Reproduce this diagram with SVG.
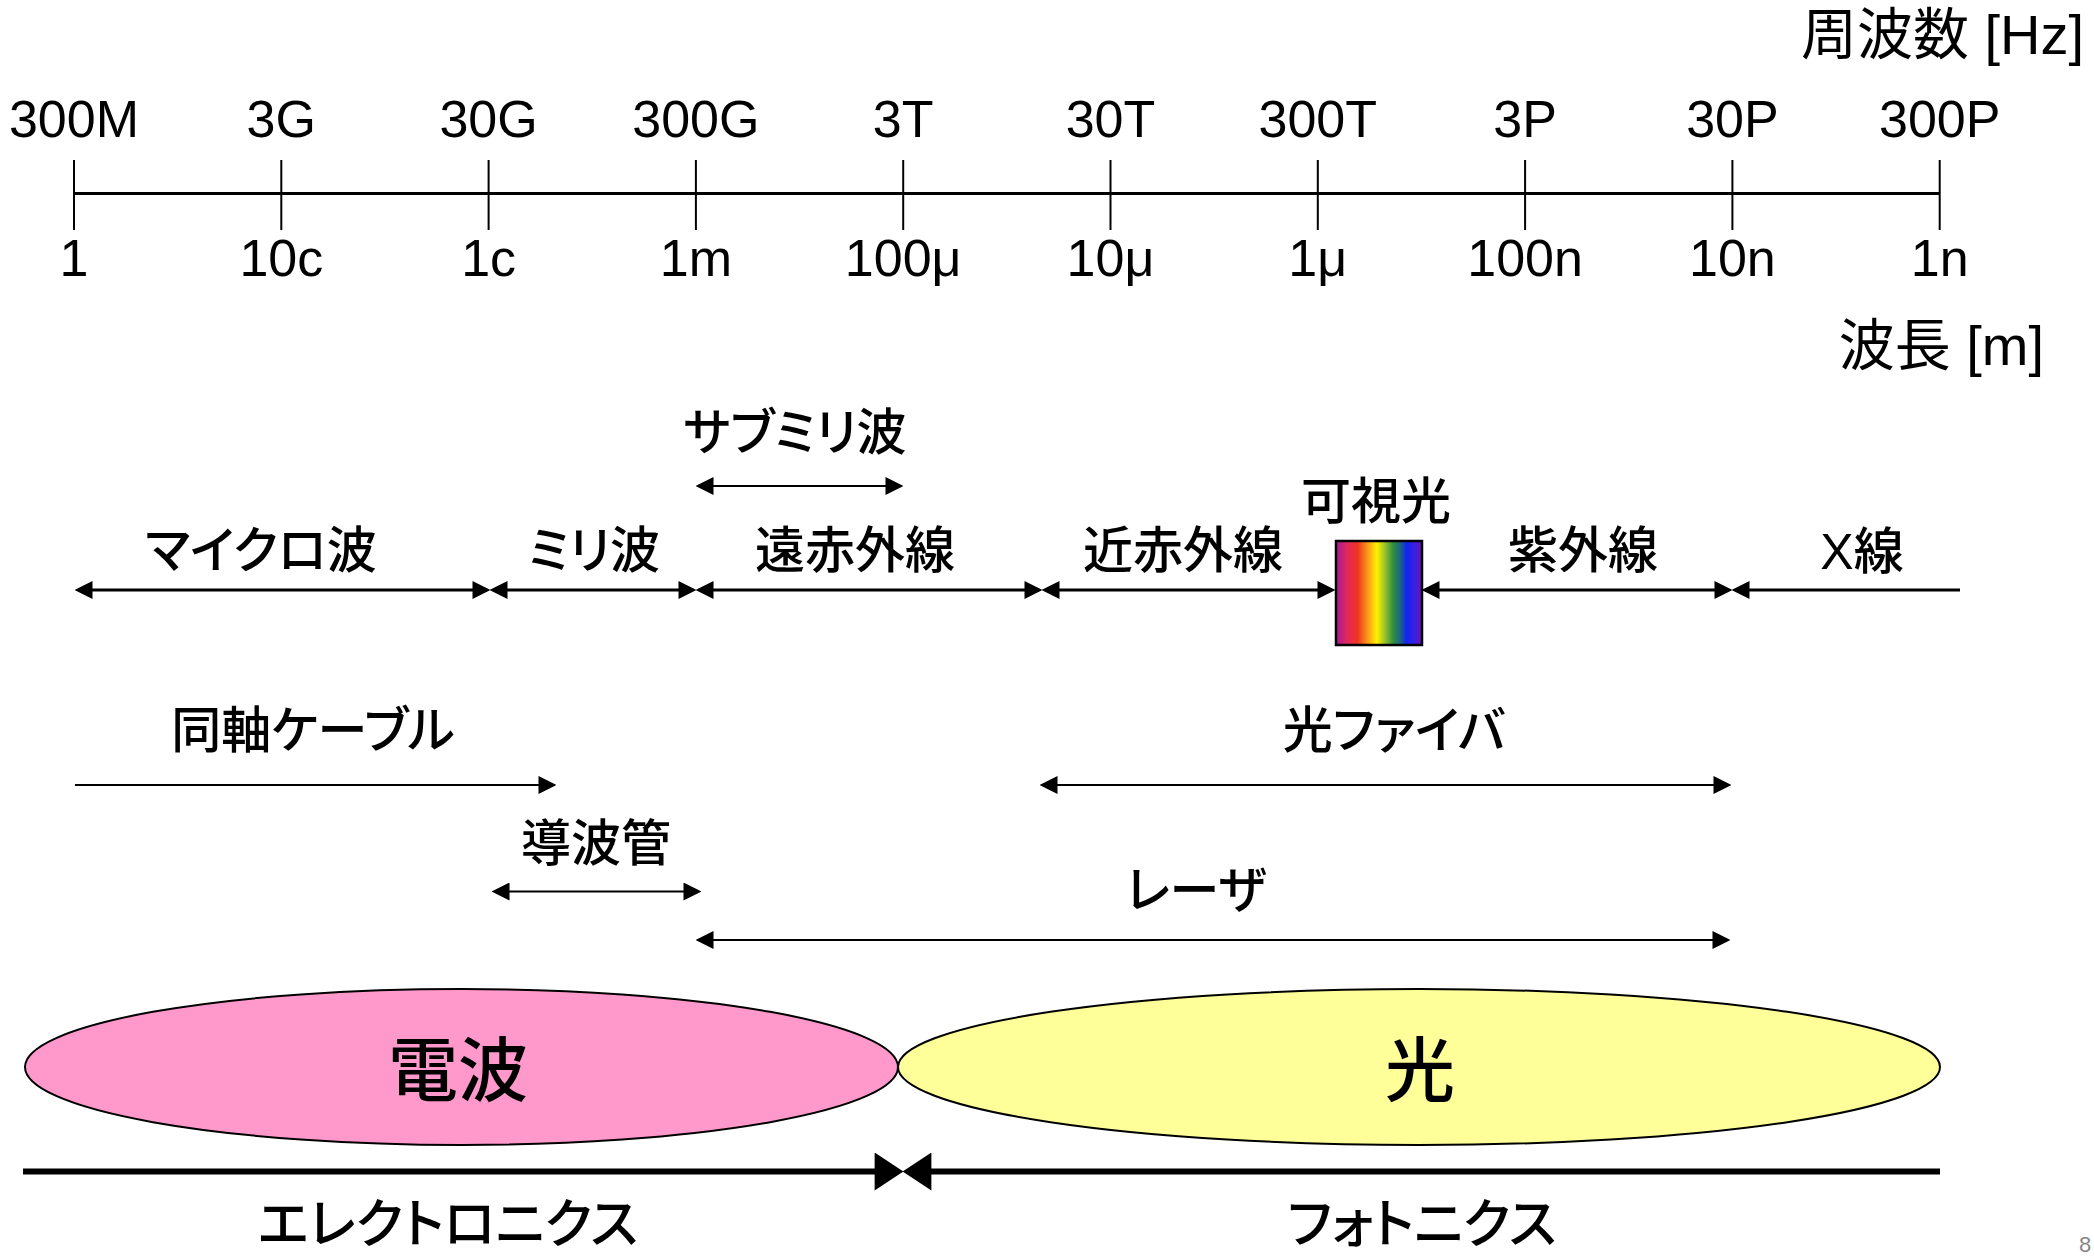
<svg xmlns="http://www.w3.org/2000/svg" width="2094" height="1256" viewBox="0 0 2094 1256">
<style>
text{font-family:"Liberation Sans","Noto Sans CJK JP",sans-serif;fill:#000}
.tk{font-size:52px;text-anchor:middle}
.hd{font-size:56px;text-anchor:end}
.jp{font-size:50px;text-anchor:middle;font-weight:500;font-feature-settings:"palt" 1}
.bt{font-size:53px;text-anchor:middle;font-weight:500;font-feature-settings:"palt" 1}
.big{font-size:70px;text-anchor:middle;font-weight:500;font-feature-settings:"palt" 1}
.ax{stroke:#000;stroke-width:3;fill:none}
.tick{stroke:#000;stroke-width:2}
.a3{stroke:#000;stroke-width:3;fill:none}
.a2{stroke:#000;stroke-width:2;fill:none}
.a6{stroke:#000;stroke-width:6;fill:none}
.pg{font-size:22px;fill:#888}
</style>
<defs>
<marker id="ah" markerUnits="userSpaceOnUse" markerWidth="18" markerHeight="18" viewBox="0 0 17 17" refX="9" refY="8.5" orient="auto-start-reverse">
<path d="M0,0 L17,8.5 L0,17 z" fill="#000"/>
</marker>
<marker id="ahb" markerUnits="userSpaceOnUse" markerWidth="30" markerHeight="38" viewBox="0 0 28 37" refX="14" refY="18.5" orient="auto-start-reverse">
<path d="M0,0 L28,18.5 L0,37 z" fill="#000"/>
</marker>
<linearGradient id="spec" x1="0" y1="0" x2="1" y2="0">
<stop offset="0" stop-color="#A8189A"/>
<stop offset="0.13" stop-color="#E2285C"/>
<stop offset="0.25" stop-color="#F03422"/>
<stop offset="0.36" stop-color="#F8921A"/>
<stop offset="0.475" stop-color="#FFF200"/>
<stop offset="0.57" stop-color="#98C02A"/>
<stop offset="0.665" stop-color="#2E9040"/>
<stop offset="0.74" stop-color="#1E6A7A"/>
<stop offset="0.82" stop-color="#1024F0"/>
<stop offset="0.91" stop-color="#3A20E0"/>
<stop offset="1" stop-color="#7010C0"/>
</linearGradient>
</defs>

<g id="axis">
<line class="ax" x1="74" y1="193.5" x2="1940" y2="193.5"/>
<line class="tick" x1="74" y1="160" x2="74" y2="230"/>
<line class="tick" x1="281.3" y1="160" x2="281.3" y2="230"/>
<line class="tick" x1="488.6" y1="160" x2="488.6" y2="230"/>
<line class="tick" x1="695.9" y1="160" x2="695.9" y2="230"/>
<line class="tick" x1="903.2" y1="160" x2="903.2" y2="230"/>
<line class="tick" x1="1110.5" y1="160" x2="1110.5" y2="230"/>
<line class="tick" x1="1317.8" y1="160" x2="1317.8" y2="230"/>
<line class="tick" x1="1525.1" y1="160" x2="1525.1" y2="230"/>
<line class="tick" x1="1732.4" y1="160" x2="1732.4" y2="230"/>
<line class="tick" x1="1939.7" y1="160" x2="1939.7" y2="230"/>
</g>
<g id="freq-labels">
<text class="tk" x="74" y="137">300M</text>
<text class="tk" x="281.3" y="137">3G</text>
<text class="tk" x="488.6" y="137">30G</text>
<text class="tk" x="695.9" y="137">300G</text>
<text class="tk" x="903.2" y="137">3T</text>
<text class="tk" x="1110.5" y="137">30T</text>
<text class="tk" x="1317.8" y="137">300T</text>
<text class="tk" x="1525.1" y="137">3P</text>
<text class="tk" x="1732.4" y="137">30P</text>
<text class="tk" x="1939.7" y="137">300P</text>
<text class="hd" x="2084" y="54">周波数 [Hz]</text>
</g>
<g id="wave-labels">
<text class="tk" x="74" y="276">1</text>
<text class="tk" x="281.3" y="276">10c</text>
<text class="tk" x="488.6" y="276">1c</text>
<text class="tk" x="695.9" y="276">1m</text>
<text class="tk" x="903.2" y="276">100μ</text>
<text class="tk" x="1110.5" y="276">10μ</text>
<text class="tk" x="1317.8" y="276">1μ</text>
<text class="tk" x="1525.1" y="276">100n</text>
<text class="tk" x="1732.4" y="276">10n</text>
<text class="tk" x="1939.7" y="276">1n</text>
<text class="hd" x="2044" y="365">波長 [m]</text>
</g>

<g id="connectors">
<line class="a2" x1="704" y1="486" x2="895" y2="486" marker-start="url(#ah)" marker-end="url(#ah)"/>
<line class="a3" x1="83" y1="590" x2="482" y2="590" marker-start="url(#ah)" marker-end="url(#ah)"/>
<line class="a3" x1="498" y1="590" x2="688" y2="590" marker-start="url(#ah)" marker-end="url(#ah)"/>
<line class="a3" x1="704" y1="590" x2="1034" y2="590" marker-start="url(#ah)" marker-end="url(#ah)"/>
<line class="a3" x1="1050" y1="590" x2="1327" y2="590" marker-start="url(#ah)" marker-end="url(#ah)"/>
<line class="a3" x1="1430" y1="590" x2="1724" y2="590" marker-start="url(#ah)" marker-end="url(#ah)"/>
<line class="a3" x1="1740" y1="590" x2="1960" y2="590" marker-start="url(#ah)"/>
<line class="a2" x1="75" y1="785" x2="548" y2="785" marker-end="url(#ah)"/>
<line class="a2" x1="1048" y1="785" x2="1723" y2="785" marker-start="url(#ah)" marker-end="url(#ah)"/>
<line class="a2" x1="500" y1="891.5" x2="693" y2="891.5" marker-start="url(#ah)" marker-end="url(#ah)"/>
<line class="a2" x1="704" y1="940" x2="1722" y2="940" marker-start="url(#ah)" marker-end="url(#ah)"/>
<line class="a6" x1="23" y1="1171.5" x2="889" y2="1171.5" marker-end="url(#ahb)"/>
<line class="a6" x1="917" y1="1171.5" x2="1940" y2="1171.5" marker-start="url(#ahb)"/>
</g>

<g id="submm"><text class="jp" x="795" y="450">サブミリ波</text></g>
<g id="microwave"><text class="jp" x="261" y="568">マイクロ波</text></g>
<g id="mmwave"><text class="jp" x="594" y="568">ミリ波</text></g>
<g id="far-ir"><text class="jp" x="855" y="568">遠赤外線</text></g>
<g id="near-ir"><text class="jp" x="1183" y="568">近赤外線</text></g>
<g id="visible">
<rect x="1336" y="541" width="86" height="104" fill="url(#spec)" stroke="#000" stroke-width="2.5"/>
<text class="jp" x="1376" y="519">可視光</text>
</g>
<g id="uv"><text class="jp" x="1583" y="568">紫外線</text></g>
<g id="xray"><text class="jp" x="1862" y="569">X線</text></g>
<g id="coax"><text class="jp" x="313" y="748">同軸ケーブル</text></g>
<g id="fiber"><text class="jp" x="1394" y="748">光ファイバ</text></g>
<g id="waveguide"><text class="jp" x="596" y="861">導波管</text></g>
<g id="laser"><text class="jp" x="1196" y="908">レーザ</text></g>
<g id="radio">
<ellipse cx="461.5" cy="1067" rx="436.5" ry="78" fill="#FF99CC" stroke="#000" stroke-width="2"/>
<text class="big" x="458" y="1096">電波</text>
</g>
<g id="light">
<ellipse cx="1419" cy="1067" rx="521" ry="78" fill="#FFFF99" stroke="#000" stroke-width="2"/>
<text class="big" x="1420" y="1096">光</text>
</g>
<g id="electronics"><text class="bt" x="448" y="1243">エレクトロニクス</text></g>
<g id="photonics"><text class="bt" x="1422" y="1243">フォトニクス</text></g>
<text class="pg" x="2079" y="1252">8</text>
</svg>
